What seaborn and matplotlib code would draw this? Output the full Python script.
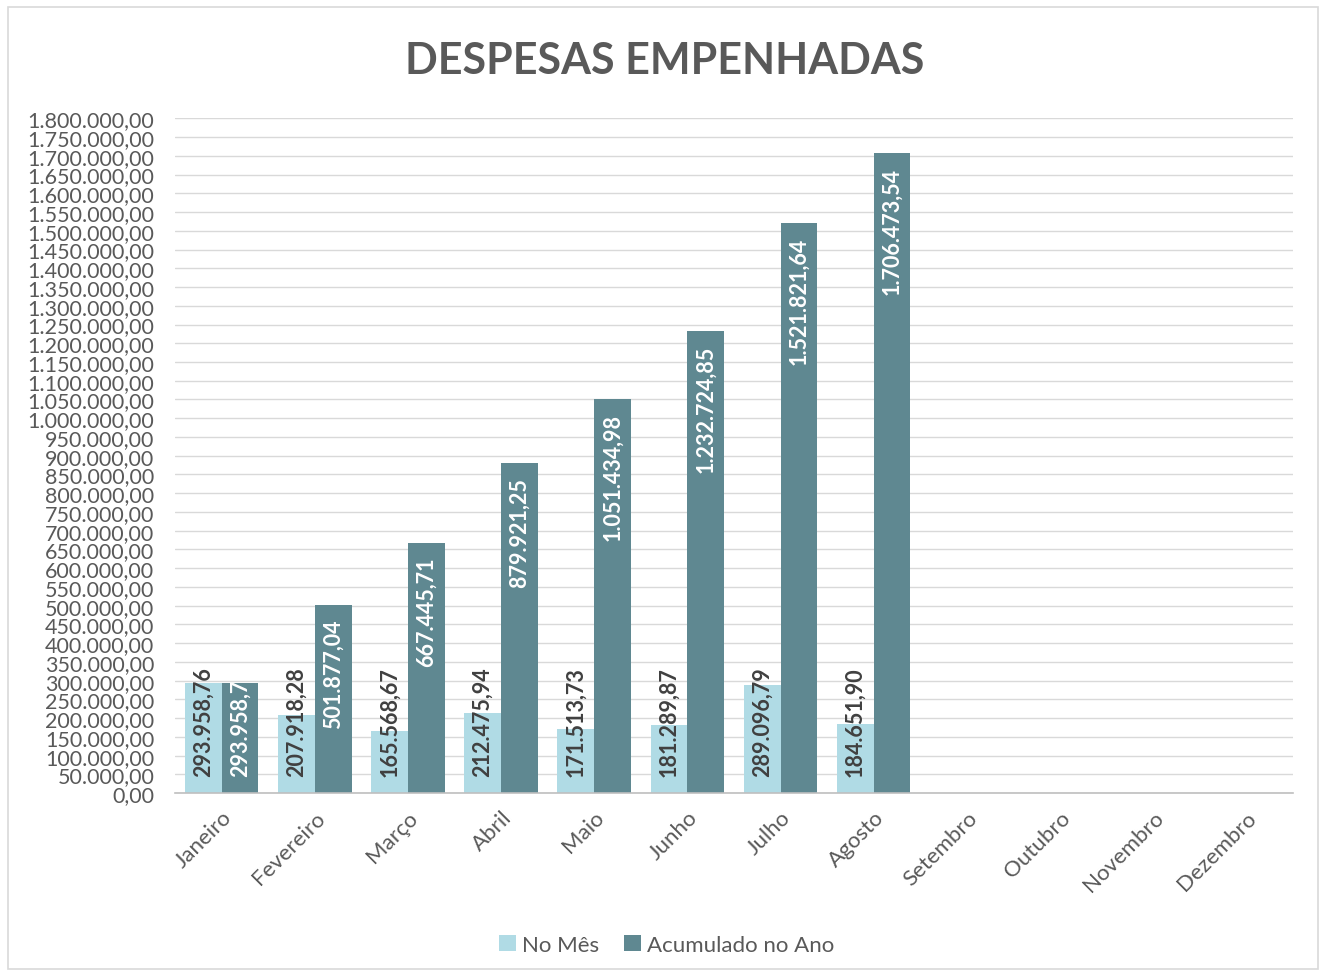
import matplotlib
matplotlib.use("Agg")
import matplotlib.pyplot as plt
import seaborn as sns
import pandas as pd
import numpy as np
from matplotlib.patches import Rectangle

months = ["Janeiro", "Fevereiro", "Março", "Abril", "Maio", "Junho",
          "Julho", "Agosto", "Setembro", "Outubro", "Novembro", "Dezembro"]
no_mes = [293958.76, 207918.28, 165568.67, 212475.94, 171513.73,
          181289.87, 289096.79, 184651.90]
acumulado = [293958.76, 501877.04, 667445.71, 879921.25, 1051434.98,
             1232724.85, 1521821.64, 1706473.54]
series_names = ["No Mês", "Acumulado no Ano"]


def fmt_br(v):
    s = f"{v:,.2f}"
    return s.replace(",", "X").replace(".", ",").replace("X", ".")


df = pd.DataFrame({
    "mes": months[:len(no_mes)] * 2,
    "valor": no_mes + acumulado,
    "serie": [series_names[0]] * len(no_mes) + [series_names[1]] * len(acumulado),
})

sns.set_style("white")
plt.rcParams["font.family"] = ["Lato", "DejaVu Sans"]

fig = plt.figure(figsize=(13.26, 9.78), dpi=100)
ax = fig.add_axes([0.132, 0.188, 0.843, 0.690])

sns.barplot(data=df, x="mes", y="valor", hue="serie", order=months,
            hue_order=series_names, palette=["#b0dbe5", "#5f8891"],
            width=0.79, saturation=1, linewidth=0, ax=ax, legend=True)

ax.set_ylim(0, 1800000)
ax.set_xlim(-0.5, 11.5)
ticks = np.arange(0, 1800001, 50000)
ax.set_yticks(ticks)
ax.set_yticklabels([fmt_br(t) for t in ticks], fontsize=15.5, color="#595959")
ax.tick_params(axis="y", length=0, pad=15)
ax.tick_params(axis="x", length=0, pad=10)
ax.set_xticks(range(len(months)))
ax.set_xticklabels(months, rotation=45, ha="right", rotation_mode="anchor",
                   fontsize=16, color="#595959")
ax.set_xlabel("")
ax.set_ylabel("")
ax.yaxis.grid(True, color="#d9d9d9", lw=1)
ax.set_axisbelow(True)
for s in ["top", "right", "left"]:
    ax.spines[s].set_visible(False)
ax.spines["bottom"].set_color("#bfbfbf")
ax.spines["bottom"].set_linewidth(1.2)

# data labels: light series at the base, dark series at the inside end
# (a dark bar too short for its label gets it at the base, cut at the bar top)
for i, cont in enumerate(ax.containers):
    for bar in cont:
        h = bar.get_height()
        if not np.isfinite(h) or h == 0:
            continue
        xc = bar.get_x() + bar.get_width() / 2
        if i == 0:
            ax.annotate(fmt_br(h), xy=(xc, 0), xytext=(0, 12),
                        textcoords="offset points", rotation=90,
                        ha="center", va="bottom", fontsize=15.5,
                        fontweight="bold", color="#404040")
        elif h < 350000:
            t = ax.annotate(fmt_br(h), xy=(xc, 0), xytext=(0, 12),
                            textcoords="offset points", rotation=90,
                            ha="center", va="bottom", fontsize=15.5,
                            fontweight="bold", color="white")
            t.set_clip_path(bar)
        else:
            t = ax.annotate(fmt_br(h), xy=(xc, h), xytext=(0, -10),
                            textcoords="offset points", rotation=90,
                            ha="center", va="top", fontsize=15.5,
                            fontweight="bold", color="white")
            t.set_clip_path(bar)

leg = ax.legend(loc="upper center", bbox_to_anchor=(0.44, -0.18), ncol=2,
                frameon=False, fontsize=16, handlelength=0.75,
                handleheight=0.75, handletextpad=0.3, columnspacing=1.1)
for txt in leg.get_texts():
    txt.set_color("#595959")

fig.text(0.501, 0.938, "DESPESAS EMPENHADAS", ha="center", va="center",
         fontsize=31, fontweight="bold", color="#595959")

fig.patches.append(Rectangle((0.006, 0.008), 0.988, 0.984, transform=fig.transFigure,
                             fill=False, edgecolor="#d9d9d9", lw=1.2))

fig.savefig("out.png", dpi=100, facecolor="white")
